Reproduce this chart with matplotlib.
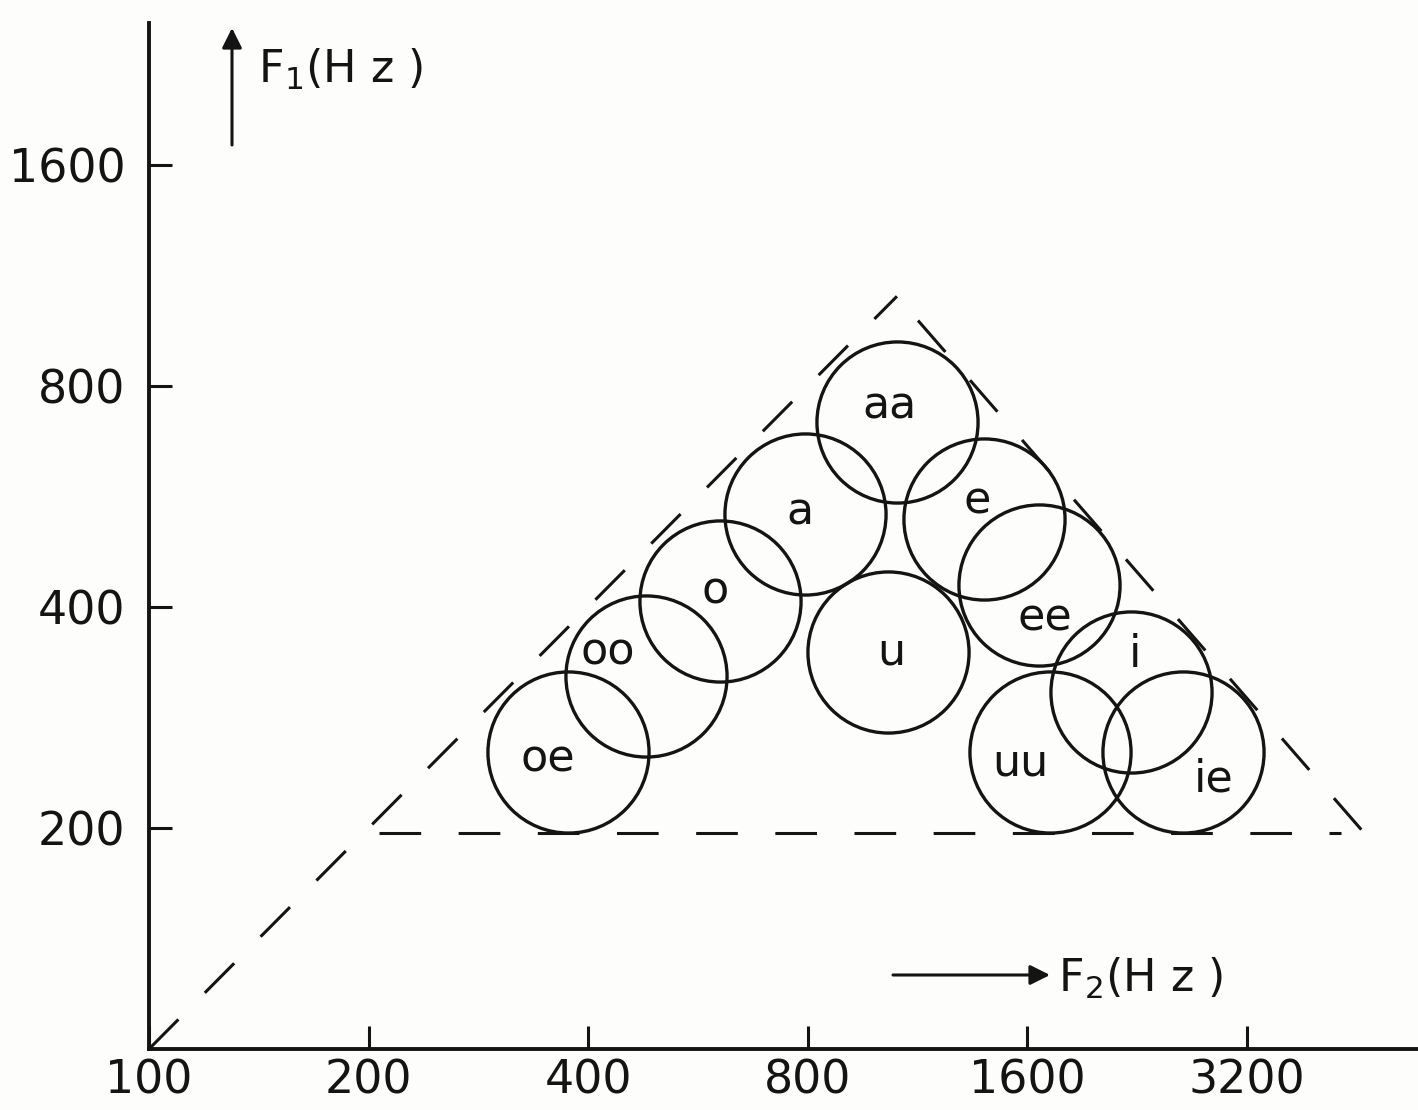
import matplotlib
matplotlib.use("Agg")
import matplotlib.pyplot as plt
from matplotlib.ticker import FixedLocator, NullLocator

# vowel regions in the F2-F1 plane (Hz)
vowels = ["oe", "oo", "o", "a", "aa", "e", "ee", "u", "i", "uu", "ie"]
f2_hz = [375, 480, 607, 793, 1060, 1393, 1660, 1029, 2219, 1718, 2618]
f1_hz = [254, 322, 408, 535, 714, 528, 429, 347, 306, 254, 254]

# dashed vowel triangle
left_edge_f2 = [100, 1060]
left_edge_f1 = [100, 1060]
right_edge_f2 = [4590, 1060]
right_edge_f1 = [199, 1060]
base_f2 = [207, 4305]
base_f1 = [197, 197]

x_ticks = [100, 200, 400, 800, 1600, 3200]
y_ticks = [200, 400, 800, 1600]

# label offsets from circle centres, in pixels
label_offsets = [(-20, -7), (-38, 24), (-5, 10), (-5, 2), (-7, 16), (-6, 18),
                 (6, -33), (4, 0), (4, 38), (-30, -11), (30, -27)]

INK = "#141414"
BG = "#fdfdfb"

plt.rcParams["lines.scale_dashes"] = False
plt.rcParams["font.family"] = ["DejaVu Sans"]

fig = plt.figure(figsize=(14.18, 11.10), dpi=100, facecolor=BG)
ax = fig.add_axes([149 / 1418, 61 / 1110, 1269 / 1418, 1026 / 1110])
ax.set_facecolor(BG)
ax.set_xscale("log")
ax.set_yscale("log")
ax.set_xlim(100, 5490)
ax.set_ylim(100, 2498)

dash = dict(color=INK, lw=2.2, dashes=(30, 27), solid_capstyle="butt")
ax.plot(left_edge_f2, left_edge_f1, **dash)
ax.plot(right_edge_f2, right_edge_f1, **dash)
ax.plot(base_f2, base_f1, **dash)

ax.plot(f2_hz, f1_hz, "o", ms=116, mfc="none", mec=INK, mew=2.4, clip_on=False)
for name, x, y, (dx, dy) in zip(vowels, f2_hz, f1_hz, label_offsets):
    ax.annotate(name, (x, y), xytext=(dx, dy), textcoords="offset pixels",
                ha="center", va="center", fontsize=32, color=INK)

for side in ["top", "right"]:
    ax.spines[side].set_visible(False)
for side in ["left", "bottom"]:
    ax.spines[side].set_linewidth(2.8)
    ax.spines[side].set_color(INK)

ax.xaxis.set_major_locator(FixedLocator(x_ticks))
ax.yaxis.set_major_locator(FixedLocator(y_ticks))
ax.xaxis.set_minor_locator(NullLocator())
ax.yaxis.set_minor_locator(NullLocator())
ax.set_xticklabels([str(v) for v in x_ticks])
ax.set_yticklabels([str(v) for v in y_ticks])
ax.tick_params(axis="both", direction="in", length=16.5, width=2.2,
               colors=INK, labelsize=33)
ax.tick_params(axis="x", pad=7)
ax.tick_params(axis="y", pad=17)

# axis captions with arrows
ax.annotate("", xy=(232, 1082), xytext=(232, 965), xycoords="figure pixels",
            textcoords="figure pixels",
            arrowprops=dict(arrowstyle="-|>", lw=2.2, color=INK,
                            mutation_scale=30, shrinkA=0, shrinkB=0))
fig.text(258 / 1418, 1027 / 1110, r"F$_1$(H z )", fontsize=32, color=INK,
         ha="left", va="baseline")
ax.annotate("", xy=(1050, 135), xytext=(893, 135), xycoords="figure pixels",
            textcoords="figure pixels",
            arrowprops=dict(arrowstyle="-|>", lw=2.2, color=INK,
                            mutation_scale=30, shrinkA=0, shrinkB=0))
fig.text(1058 / 1418, 118 / 1110, r"F$_2$(H z )", fontsize=32, color=INK,
         ha="left", va="baseline")

fig.savefig("out.png", dpi=100, facecolor=BG)
